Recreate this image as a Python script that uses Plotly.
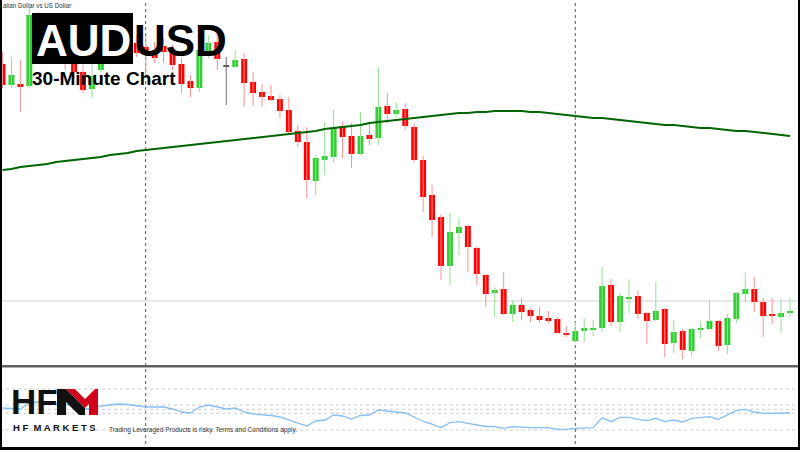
import plotly.graph_objects as go

# ---------------- data (AUDUSD, 30-minute candles) ----------------
idx = list(range(89))

open_ = [0.67372,0.67330,0.67332,0.67328,0.67468,0.67424,0.67444,0.67404,0.67386,0.67356,
         0.67322,0.67360,0.67390,0.67410,0.67396,0.67414,0.67406,0.67400,0.67408,0.67396,
         0.67372,0.67338,0.67324,0.67388,0.67416,0.67368,0.67366,0.67382,0.67336,0.67316,
         0.67308,0.67302,0.67280,0.67238,0.67216,0.67138,0.67180,0.67186,0.67248,0.67228,
         0.67192,0.67230,0.67224,0.67288,0.67272,0.67282,0.67246,0.67180,0.67110,0.67066,
         0.66968,0.67034,0.67048,0.67004,0.66950,0.66914,0.66922,0.66872,0.66890,0.66880,
         0.66868,0.66864,0.66862,0.66834,0.66818,0.66838,0.66840,0.66844,0.66930,0.66856,
         0.66902,0.66908,0.66874,0.66860,0.66882,0.66814,0.66838,0.66798,0.66840,0.66842,
         0.66858,0.66810,0.66862,0.66912,0.66922,0.66896,0.66872,0.66866,0.66874]

high = [0.67396,0.67386,0.67380,0.67484,0.67476,0.67460,0.67456,0.67420,0.67400,0.67370,
        0.67374,0.67404,0.67424,0.67420,0.67428,0.67430,0.67428,0.67416,0.67424,0.67410,
        0.67384,0.67350,0.67410,0.67430,0.67436,0.67386,0.67400,0.67394,0.67356,0.67332,
        0.67330,0.67310,0.67306,0.67250,0.67246,0.67190,0.67256,0.67280,0.67256,0.67254,
        0.67276,0.67256,0.67366,0.67314,0.67296,0.67294,0.67254,0.67188,0.67130,0.67072,
        0.67074,0.67064,0.67050,0.67006,0.66952,0.66926,0.66956,0.66900,0.66904,0.66884,
        0.66886,0.66878,0.66866,0.66848,0.66856,0.66864,0.66860,0.66966,0.66942,0.66914,
        0.66942,0.66918,0.66876,0.66936,0.66884,0.66860,0.66842,0.66844,0.66858,0.66900,
        0.66860,0.66872,0.66916,0.66954,0.66946,0.66904,0.66904,0.66902,0.66904]

low = [0.67324,0.67324,0.67276,0.67324,0.67416,0.67410,0.67390,0.67360,0.67344,0.67314,
       0.67304,0.67356,0.67380,0.67384,0.67388,0.67386,0.67350,0.67374,0.67374,0.67360,
       0.67314,0.67306,0.67316,0.67384,0.67360,0.67290,0.67366,0.67286,0.67288,0.67286,
       0.67298,0.67264,0.67234,0.67206,0.67104,0.67110,0.67150,0.67176,0.67184,0.67164,
       0.67190,0.67210,0.67210,0.67254,0.67266,0.67240,0.67176,0.67076,0.67026,0.66940,
       0.66930,0.66990,0.66956,0.66930,0.66886,0.66866,0.66870,0.66856,0.66860,0.66856,
       0.66854,0.66854,0.66832,0.66826,0.66816,0.66816,0.66828,0.66836,0.66848,0.66836,
       0.66874,0.66862,0.66812,0.66858,0.66786,0.66794,0.66782,0.66788,0.66824,0.66840,
       0.66798,0.66792,0.66854,0.66896,0.66876,0.66826,0.66852,0.66834,0.66866]

close = [0.67330,0.67350,0.67326,0.67470,0.67424,0.67444,0.67404,0.67384,0.67356,0.67320,
         0.67348,0.67390,0.67410,0.67396,0.67414,0.67394,0.67390,0.67384,0.67396,0.67370,
         0.67332,0.67324,0.67400,0.67414,0.67382,0.67368,0.67380,0.67334,0.67314,0.67306,
         0.67300,0.67278,0.67236,0.67216,0.67140,0.67184,0.67188,0.67244,0.67226,0.67192,
         0.67228,0.67222,0.67286,0.67272,0.67280,0.67248,0.67180,0.67106,0.67060,0.66968,
         0.67036,0.67046,0.67006,0.66952,0.66912,0.66920,0.66872,0.66890,0.66876,0.66868,
         0.66860,0.66858,0.66834,0.66830,0.66838,0.66844,0.66844,0.66928,0.66856,0.66908,
         0.66906,0.66872,0.66858,0.66878,0.66812,0.66836,0.66800,0.66842,0.66844,0.66858,
         0.66808,0.66864,0.66914,0.66922,0.66896,0.66868,0.66868,0.66874,0.66878]

ma_line = [0.67160,0.67162,0.67166,0.67168,0.67170,0.67172,0.67176,0.67178,0.67180,0.67182,
           0.67184,0.67186,0.67190,0.67192,0.67194,0.67198,0.67200,0.67202,0.67204,0.67206,
           0.67208,0.67210,0.67212,0.67214,0.67216,0.67218,0.67220,0.67222,0.67224,0.67226,
           0.67228,0.67230,0.67232,0.67234,0.67236,0.67238,0.67242,0.67244,0.67246,0.67248,
           0.67250,0.67254,0.67256,0.67258,0.67260,0.67262,0.67264,0.67266,0.67268,0.67270,
           0.67272,0.67274,0.67274,0.67276,0.67276,0.67278,0.67278,0.67278,0.67278,0.67276,
           0.67276,0.67274,0.67272,0.67270,0.67268,0.67266,0.67264,0.67264,0.67262,0.67260,
           0.67258,0.67256,0.67254,0.67252,0.67250,0.67250,0.67248,0.67246,0.67244,0.67244,
           0.67242,0.67240,0.67238,0.67238,0.67236,0.67234,0.67232,0.67230,0.67228]

osc = [39,38.5,38,44,45,44,43,43,41,38,
       38,41,42,43,42.5,41,40,40,40,38,
       35,34,40,42,40,38,39,35,33,32.5,
       31.5,30,27,24,21,26,27,32,31,28,
       31.5,32,37,36,35,34,30,25.5,23,19.3,
       24.3,25.3,23.7,22,20.5,20.3,18.7,20.3,19.7,19.3,
       19.3,19.3,17.7,17.7,18.7,19.3,19.3,29.3,25.3,29.7,
       29.7,27.7,26.3,28.7,25.3,27,25,28.7,29.3,30.3,
       27.7,32,36.3,37.7,35,33.7,33.7,33.7,34]

osc_levels = [58, 42, 37.7, 33.7, 17]
last_price = 0.66898
session_breaks = [16, 64]

title_main_a = "AUD"
title_main_b = "USD"
subtitle = "30-Minute Chart"
symbol_desc = "alian Dollar vs US Dollar"   # visible part of "Australian Dollar vs US Dollar"
brand = "HF"
brand_sub = "H F  M A R K E T S"
disclaimer = "Trading Leveraged Products is risky. Terms and Conditions apply."

# ---------------- styling / helpers ----------------
W, H = 800, 450
FONT = "Liberation Sans, Arial, sans-serif"


def px(x):
    return x / W


def py(y):
    return 1 - y / H


UP, DOWN, FLAT = "#32cd32", "#ff0000", "#5a5a5a"
UP_W, DOWN_W, FLAT_W = "#94e094", "#ff9090", "#6a6a6a"

fig = go.Figure()


def direction(i):
    if close[i] > open_[i]:
        return "up"
    if close[i] < open_[i]:
        return "down"
    return "flat"


# wicks
for d, col in (("up", UP_W), ("down", DOWN_W), ("flat", FLAT_W)):
    xs, ys = [], []
    for i in idx:
        if direction(i) == d:
            xs += [i, i, None]
            ys += [low[i], high[i], None]
    fig.add_trace(go.Scatter(x=xs, y=ys, mode="lines", line=dict(color=col, width=1),
                             hoverinfo="skip", showlegend=False))

# bodies
min_body = 0.00004
base, height, colors = [], [], []
for i in idx:
    lo, hi = min(open_[i], close[i]), max(open_[i], close[i])
    h = hi - lo
    if h < min_body:
        mid = (hi + lo) / 2
        lo, h = mid - min_body / 2, min_body
    base.append(lo)
    height.append(h)
    colors.append({"up": UP, "down": DOWN, "flat": FLAT}[direction(i)])

fig.add_trace(go.Bar(x=idx, y=height, base=base, width=0.66,
                     marker=dict(color=colors, line=dict(width=0)),
                     hoverinfo="skip", showlegend=False))

# moving average
fig.add_trace(go.Scatter(x=idx, y=ma_line, mode="lines",
                         line=dict(color="#006400", width=2),
                         hoverinfo="skip", showlegend=False))

# oscillator
fig.add_trace(go.Scatter(x=idx, y=osc, yaxis="y2", mode="lines",
                         line=dict(color="#84bff4", width=1.3),
                         hoverinfo="skip", showlegend=False))

shapes = []
shapes.append(dict(type="line", xref="paper", x0=0, x1=1, yref="y", y0=last_price, y1=last_price,
                   line=dict(color="#d4d4d4", width=1), layer="below"))
for s in session_breaks:
    shapes.append(dict(type="line", xref="x", x0=s, x1=s, yref="paper", y0=0, y1=1,
                       line=dict(color="#555555", width=1, dash="dot"), layer="below"))
for lv in osc_levels:
    shapes.append(dict(type="line", xref="paper", x0=0, x1=1, yref="y2", y0=lv, y1=lv,
                       line=dict(color="#cccccc", width=1, dash="dot"), layer="below"))

# panel separator and borders
shapes.append(dict(type="line", xref="paper", yref="paper", x0=0, x1=1, y0=py(366.3), y1=py(366.3),
                   line=dict(color="#5e5e5e", width=2.6)))
shapes.append(dict(type="rect", xref="paper", yref="paper", x0=0, x1=px(2), y0=0, y1=1,
                   fillcolor="black", line=dict(width=0)))
shapes.append(dict(type="rect", xref="paper", yref="paper", x0=px(798), x1=1, y0=0, y1=1,
                   fillcolor="black", line=dict(width=0)))
shapes.append(dict(type="rect", xref="paper", yref="paper", x0=0, x1=1, y0=0, y1=py(447),
                   fillcolor="black", line=dict(width=0)))

# black title box
shapes.append(dict(type="rect", xref="paper", yref="paper", x0=px(32), x1=px(133), y0=py(64), y1=py(13),
                   fillcolor="black", line=dict(width=0)))


def path(points):
    return "M " + " L ".join(f"{px(a):.5f},{py(b):.5f}" for a, b in points) + " Z"


# logo "M" (black left half, red right half)
black_m = [(57, 415), (57, 389), (66, 389), (85, 408), (85, 415), (79, 415), (66, 402), (66, 415)]
red_m = [(66, 389), (75, 389), (85, 399), (95, 389), (98, 389), (98, 415), (89, 415), (89, 404),
         (85, 408)]
shapes.append(dict(type="path", xref="paper", yref="paper", path=path(black_m),
                   fillcolor="#111111", line=dict(width=0)))
shapes.append(dict(type="path", xref="paper", yref="paper", path=path(red_m),
                   fillcolor="#d0021b", line=dict(width=0)))

annotations = [
    dict(text=symbol_desc, x=px(1), y=py(6), xanchor="left", yanchor="middle",
         font=dict(family=FONT, size=6.3, color="#333333")),
    dict(text=f"<b>{title_main_a}</b>", x=px(34), y=py(40), xanchor="left", yanchor="middle",
         font=dict(family=FONT, size=44, color="white")),
    dict(text=f"<b>{title_main_b}</b>", x=px(132), y=py(40), xanchor="left", yanchor="middle",
         font=dict(family=FONT, size=44, color="black")),
    dict(text=f"<b>{subtitle}</b>", x=px(30), y=py(78), xanchor="left", yanchor="middle",
         font=dict(family=FONT, size=19, color="black")),
    dict(text=f"<b>{brand}</b>", x=px(9), y=py(401), xanchor="left", yanchor="middle",
         font=dict(family=FONT, size=35, color="#111111")),
    dict(text=f"<b>{brand_sub}</b>", x=px(11), y=py(427.5), xanchor="left", yanchor="middle",
         font=dict(family=FONT, size=9.5, color="#111111")),
    dict(text=disclaimer, x=px(107), y=py(430), xanchor="left", yanchor="middle",
         font=dict(family=FONT, size=6.5, color="#333333")),
]
for a in annotations:
    a.update(xref="paper", yref="paper", showarrow=False)

fig.update_layout(
    width=W, height=H,
    margin=dict(l=0, r=0, t=0, b=0),
    paper_bgcolor="white", plot_bgcolor="white",
    showlegend=False, hovermode=False,
    xaxis=dict(range=[-0.279, 89.11], visible=False, fixedrange=True),
    yaxis=dict(domain=[1 - 366 / H, 1], range=[0.66768, 0.67500], visible=False),
    yaxis2=dict(domain=[3 / H, 1 - 368 / H], range=[0, 79], visible=False),
    shapes=shapes,
    annotations=annotations,
)

fig.write_html("out.html")
